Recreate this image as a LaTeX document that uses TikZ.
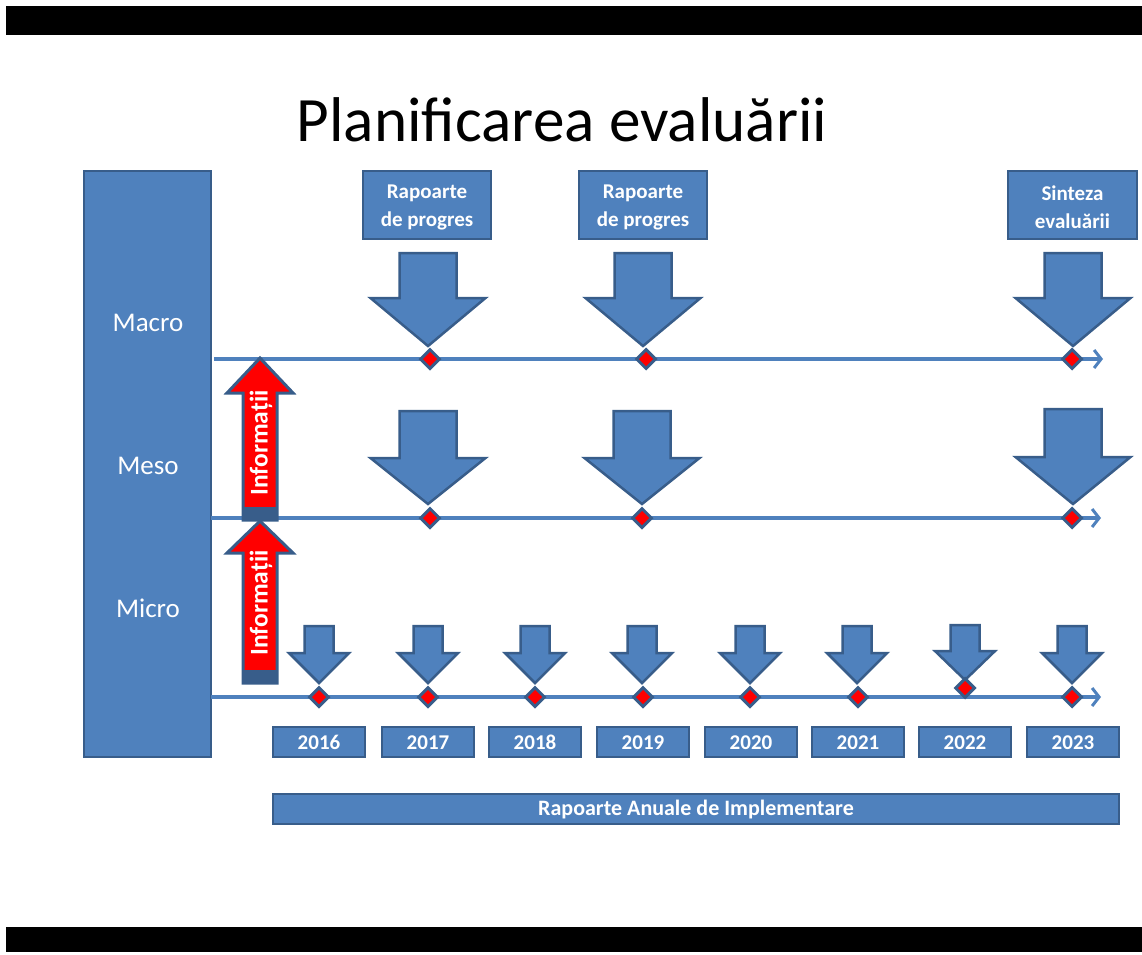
\documentclass[tikz,border=0pt]{standalone}
\usepackage{fontspec}
\setmainfont{Carlito}
\usetikzlibrary{arrows.meta,shapes.geometric}
\definecolor{bfill}{HTML}{4F81BD}
\definecolor{bline}{HTML}{385D8A}
\definecolor{rfill}{HTML}{FF0000}
\newcommand{\dnarr}[6]{%
  \draw[downarr] ({#1-#4},#2) -- ({#1+#4},#2) -- ({#1+#4},#6) -- ({#1+#5},#6) -- (#1,#3) -- ({#1-#5},#6) -- ({#1-#4},#6) -- cycle;}
\newcommand{\uparr}[4]{% cx, tip, headbase, bottom
  \draw[redarr] (#1,#2) -- ({#1+33},#3) -- ({#1+17},#3) -- ({#1+17},#4) -- ({#1-17},#4) -- ({#1-17},#3) -- ({#1-33},#3) -- cycle;
  \fill[bline] ({#1-17},{#4-13}) rectangle ({#1+17},#4);}
\begin{document}
\begin{tikzpicture}[x=1pt,y=-1pt,
  box/.style={draw=bline, fill=bfill, line width=2.5pt, text=white, inner sep=0pt, align=center},
  yearbox/.style={box, minimum width=92pt, minimum height=30pt, text height=14pt, text depth=0pt, font=\fontsize{21}{24}\selectfont\bfseries},
  topbox/.style={box, minimum width=128pt, minimum height=68pt},
  toptext/.style={text=white, inner sep=0pt, align=center, font=\fontsize{21}{28}\selectfont\bfseries},
  tline/.style={draw=bfill, line width=4pt, -{Straight Barb[length=7pt,width=18pt,line width=3pt]}},
  downarr/.style={draw=bline, fill=bfill, line width=2.5pt, line join=miter},
  redarr/.style={draw=bline, fill=rfill, line width=3pt, line join=miter},
  dia/.style={diamond, draw=bline, fill=rfill, line width=3pt, minimum size=20pt, inner sep=0pt},
  lvl/.style={text=white, font=\fontsize{27}{30}\selectfont},
  info/.style={text=white, rotate=90, font=\fontsize{25.5}{27}\selectfont\bfseries}]
\useasboundingbox (0,0) rectangle (1142,954);
\fill[black] (6,6) rectangle (1142,35);
\fill[black] (6,927) rectangle (1142,952);

\node[font=\fontsize{63.2}{66}\selectfont] (title) at (562,120) {Planificarea evaluării};

% left column
\node[box, minimum width=127pt, minimum height=586pt] (col) at (147.5,464) {};
\node[lvl] (macro) at (148,323) {Macro};
\node[lvl] (meso) at (148,466) {Meso};
\node[lvl] (micro) at (148,608) {Micro};

% timelines
\coordinate (maL) at (214,359); \coordinate (maR) at (1103,359);
\coordinate (meL) at (211,518); \coordinate (meR) at (1101,518);
\coordinate (miL) at (211,697); \coordinate (miR) at (1101,697);
\draw[tline] (maL) -- (maR);
\draw[tline] (meL) -- (meR);
\draw[tline] (miL) -- (miR);

% top boxes
\node[topbox] (rp1) at (427,205) {};
\node[topbox] (rp2) at (643,205) {};
\node[topbox, minimum width=129pt] (sint) at (1072.5,205) {};
\node[toptext] (rp1t) at ([yshift=-2pt]rp1.center) {Rapoarte\\de progres};
\node[toptext] (rp2t) at ([yshift=-2pt]rp2.center) {Rapoarte\\de progres};
\node[toptext] (sintt) at ([yshift=-2pt]sint.center) {Sinteza\\evaluării};

% big arrows macro
\dnarr{428}{253}{346}{28.5}{57.5}{298}
\dnarr{643}{253}{346}{28.5}{57.5}{298}
\dnarr{1073}{253}{346}{28.5}{57.5}{298}
% big arrows meso
\dnarr{428}{411}{504}{28.5}{57.5}{458}
\dnarr{642}{411}{504}{28.5}{57.5}{458}
\dnarr{1073}{409}{504}{28.5}{57.5}{457}
% small arrows micro
\foreach \x in {319,428,535,642,750,857,1072}{\dnarr{\x}{626}{683}{14.5}{30}{653}}
\dnarr{965}{625}{680}{14.5}{30}{651}

% diamonds
\node[dia] (d1) at (430,359) {};
\node[dia] (d2) at (646,359) {};
\node[dia] (d3) at (1072,359) {};
\node[dia] (e1) at (430,518) {};
\node[dia] (e2) at (642,518) {};
\node[dia] (e3) at (1072,518) {};
\foreach \x/\n in {319/f1,428/f2,535/f3,643/f4,750/f5,858/f6,1072/f8}{\node[dia] (\n) at (\x,697) {};}
\node[dia] (f7) at (965,688) {};

% red arrows
\uparr{260}{358}{393}{520}
\node[info] (inf1) at (261,443) {Informații};
\uparr{260}{521}{553}{683}
\node[info] (inf2) at (261,603) {Informații};

% years
\foreach \x/\y in {319/2016,428/2017,535/2018,643/2019,751/2020,858/2021,965/2022,1073/2023}{\node[yearbox] (y\y) at (\x,742) {\y};}

\node[box, minimum width=846pt, minimum height=30pt, font=\fontsize{22}{24}\selectfont\bfseries] (rai) at (696,809) {Rapoarte Anuale de Implementare};
\end{tikzpicture}
\end{document}
